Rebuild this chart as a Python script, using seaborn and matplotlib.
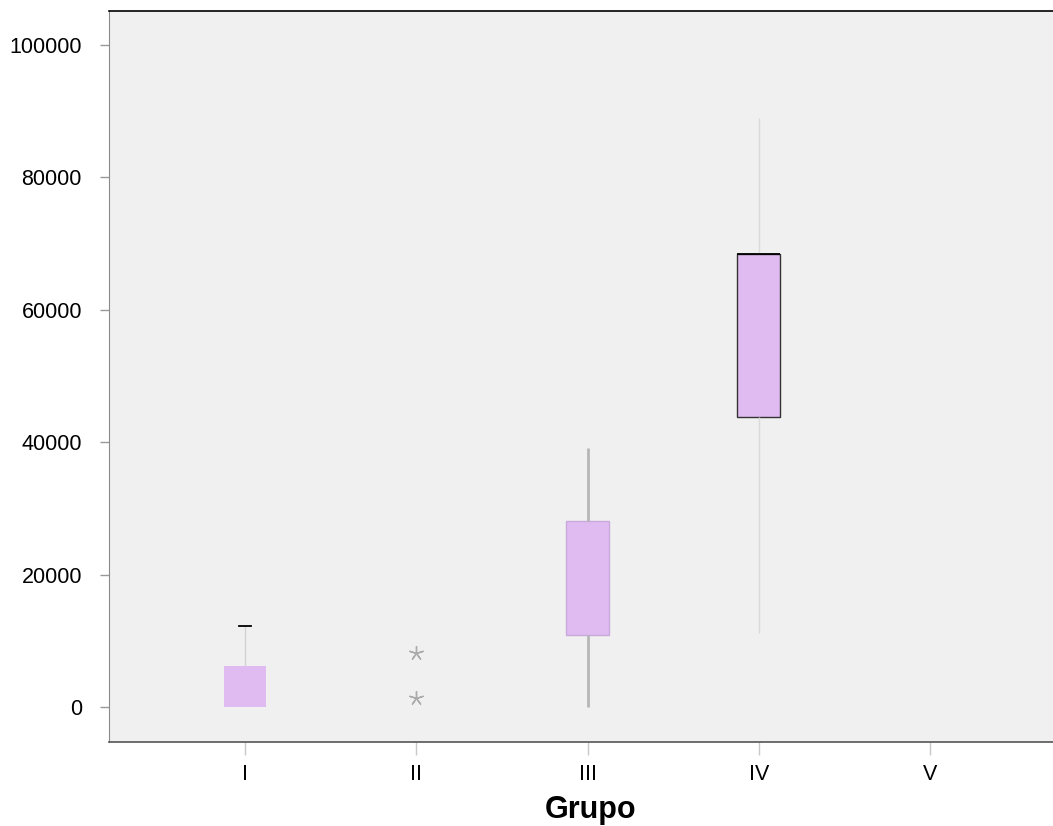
import numpy as np
import pandas as pd
import matplotlib
matplotlib.use("Agg")
import matplotlib.pyplot as plt
import seaborn as sns

plt.rcParams["font.family"] = ["Liberation Sans", "DejaVu Sans"]

# data
grupos = ["I", "II", "III", "IV", "V"]
grupo_I = [0, 0, 0, 6190, 12240]
grupo_II = [1360, 8160]          # only extreme values, shown as asterisks
grupo_III = [0, 10880, 19500, 28100, 39120]
grupo_IV = [11180, 43810, 68430, 68430, 88970]
yticks = [0, 20000, 40000, 60000, 80000, 100000]

box_color = "#dfbbf2"

df = pd.concat([
    pd.DataFrame({"grupo": "I", "valor": grupo_I}),
    pd.DataFrame({"grupo": "II", "valor": grupo_II}),
    pd.DataFrame({"grupo": "III", "valor": grupo_III}),
    pd.DataFrame({"grupo": "IV", "valor": grupo_IV}),
])

fig = plt.figure(figsize=(10.53, 8.26), dpi=100)
ax = fig.add_axes([109 / 1053, 1 - 742 / 826, 1 - 109 / 1053, (742 - 11) / 826])
ax.set_facecolor("#f0f0f0")

# group I: black upper cap, light whisker
n0 = len(ax.lines)
sns.boxplot(data=df[df.grupo == "I"], x="grupo", y="valor", order=grupos, ax=ax,
            width=0.25, color=box_color, saturation=1, linewidth=1, showcaps=True,
            capwidths=0.065,
            boxprops=dict(edgecolor="none"),
            whiskerprops=dict(color="#d2d2d2", linewidth=1),
            capprops=dict(color="black", linewidth=1.3),
            medianprops=dict(visible=False), showfliers=False)
for ln in ax.lines[n0:]:
    y = np.asarray(ln.get_ydata(), dtype=float)
    if len(y) == 2 and y[0] == y[1] == min(grupo_I):
        ln.set_visible(False)

# group III: grey whiskers, no caps
sns.boxplot(data=df[df.grupo == "III"], x="grupo", y="valor", order=grupos, ax=ax,
            width=0.25, color=box_color, saturation=1, linewidth=1, showcaps=False,
            boxprops=dict(edgecolor="#c9a9dc", linewidth=1.0),
            whiskerprops=dict(color="#b6b6b6", linewidth=2),
            medianprops=dict(visible=False), showfliers=False)

# group IV: dark box borders, very light whiskers
sns.boxplot(data=df[df.grupo == "IV"], x="grupo", y="valor", order=grupos, ax=ax,
            width=0.25, color=box_color, saturation=1, linewidth=1, showcaps=False,
            boxprops=dict(edgecolor="#333333", linewidth=1.0),
            whiskerprops=dict(color="#dadada", linewidth=1),
            medianprops=dict(color="black", linewidth=1.3), showfliers=False)

# group II: extreme values
sns.stripplot(data=df[df.grupo == "II"], x="grupo", y="valor", order=grupos, ax=ax,
              jitter=False, marker=(5, 2, 0), s=10, color="#ababab",
              edgecolor="#ababab", linewidth=1)

ax.set_xlim(-0.794, 4.718)
ax.set_ylim(-5290, 105140)
ax.set_yticks(yticks)
ax.set_yticklabels([str(v) for v in yticks])

ax.spines["right"].set_visible(False)
ax.spines["top"].set_color("black")
ax.spines["top"].set_linewidth(1.2)
ax.spines["left"].set_color("#8a8a8a")
ax.spines["bottom"].set_color("#555555")
ax.spines["bottom"].set_linewidth(1.2)

ax.tick_params(axis="y", length=6.5, width=1, color="#999999", pad=13,
               labelsize=15.5, labelcolor="black")
ax.tick_params(axis="x", length=9.5, width=1, color="#c8c8c8", pad=6,
               labelsize=15.5, labelcolor="black")

ax.set_ylabel("")
ax.set_xlabel("Grupo", fontsize=22, fontweight="bold")
ax.xaxis.set_label_coords((591 - 109) / 944, -0.073)

fig.savefig("out.png", dpi=100)
